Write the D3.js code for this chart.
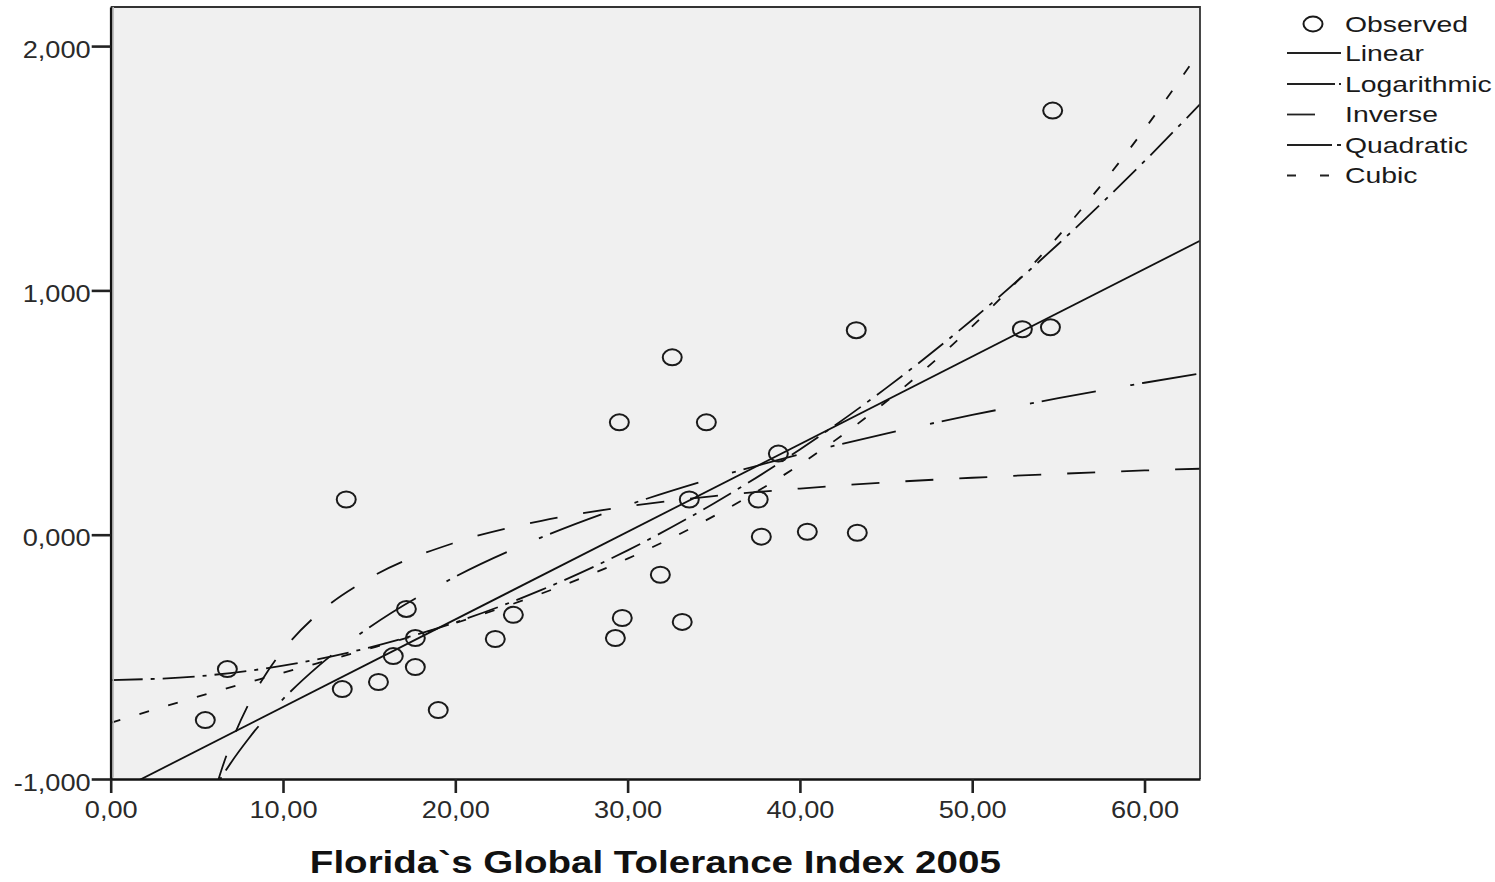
<!DOCTYPE html>
<html>
<head>
<meta charset="utf-8">
<script src="https://cdn.jsdelivr.net/npm/d3@7"></script>
<style>
  html, body { margin: 0; padding: 0; background: #ffffff; }
  svg { display: block; }
  text { font-family: "Liberation Sans", Arial, sans-serif; }
</style>
</head>
<body>
<svg id="chart" width="1495" height="882"></svg>
<script>
// ---------- data ----------
const obsX = [5.49, 6.77, 13.67, 13.44, 15.54, 16.40, 17.16, 17.68, 17.68, 19.01, 22.32, 23.37, 29.29, 29.52, 29.69,
              31.90, 32.59, 33.17, 33.58, 34.57, 37.58, 37.76, 38.75, 40.43, 43.27, 43.33, 52.91, 54.54, 54.67];
const obsY = [-0.759, -0.550, 0.144, -0.632, -0.603, -0.497, -0.304, -0.423, -0.542, -0.718, -0.427, -0.328, -0.423, 0.460, -0.341,
              -0.164, 0.726, -0.357, 0.144, 0.460, 0.144, -0.008, 0.332, 0.012, 0.837, 0.008, 0.841, 0.849, 1.736];

const linearX = [0, 63.22];
const linearY = [-1.064, 1.203];

const logX = [6.3, 6.6, 7, 8, 9, 10, 12, 15, 20, 25, 30, 35, 40, 45, 50, 55, 60, 63.22];
const logY = [-1.007, -0.974, -0.931, -0.835, -0.749, -0.673, -0.541, -0.380, -0.172, -0.011, 0.121, 0.232, 0.329, 0.414, 0.490, 0.559, 0.622, 0.660];

const inverseX = [6.2, 6.5, 7, 8, 9, 10, 12, 15, 20, 25, 30, 35, 40, 45, 50, 55, 60, 63.22];
const inverseY = [-1.014, -0.948, -0.851, -0.694, -0.571, -0.473, -0.326, -0.179, -0.032, 0.057, 0.116, 0.158, 0.189, 0.214, 0.233, 0.249, 0.263, 0.270];

const quadX = [0, 5, 10, 15, 20, 25, 30, 35, 40, 45, 50, 55, 60, 63.22];
const quadY = [-0.595, -0.580, -0.536, -0.462, -0.359, -0.226, -0.064, 0.128, 0.349, 0.600, 0.880, 1.190, 1.529, 1.762];

const cubicX = [0, 5, 10, 15, 20, 25, 30, 35, 40, 45, 50, 55, 60, 63.22];
const cubicY = [-0.770, -0.664, -0.565, -0.467, -0.362, -0.241, -0.098, 0.076, 0.287, 0.544, 0.853, 1.222, 1.660, 1.980];

const seriesNames = ["Observed", "Linear", "Logarithmic", "Inverse", "Quadratic", "Cubic"];

const xTickValues = [0, 10, 20, 30, 40, 50, 60];
const xTickLabels = ["0,00", "10,00", "20,00", "30,00", "40,00", "50,00", "60,00"];
const yTickValues = [-1, 0, 1, 2];
const yTickLabels = ["-1,000", "0,000", "1,000", "2,000"];

const xDomain = [0, 63.22];
const yDomain = [-1, 2.16];
const xTitle = "Florida`s Global Tolerance Index 2005";

// ---------- styles / layout ----------
const plot = { left: 110.7, right: 1200, top: 7, bottom: 779 };
const lineStyles = {
  Linear:      { dash: null,           legendDash: null },
  Logarithmic: { dash: "4,8,55,35",    legendDash: "48,4,3,20" },
  Inverse:     { dash: "28,26",        legendDash: "28,40" },
  Quadratic:   { dash: "32,8,4,8",     legendDash: "45,5,5,20" },
  Cubic:       { dash: "10,20",        legendDash: "9,24,9,20" }
};

const svg = d3.select("#chart");
const x = d3.scaleLinear().domain(xDomain).range([plot.left, plot.right]);
const y = d3.scaleLinear().domain(yDomain).range([plot.bottom, plot.top]);

// background
svg.append("rect")
  .attr("x", plot.left).attr("y", plot.top)
  .attr("width", plot.right - plot.left).attr("height", plot.bottom - plot.top)
  .attr("fill", "#f0f0f0");

svg.append("clipPath").attr("id", "clip")
  .append("rect")
  .attr("x", plot.left).attr("y", plot.top)
  .attr("width", plot.right - plot.left).attr("height", plot.bottom - plot.top);

const curves = [
  { name: "Linear", xs: linearX, ys: linearY },
  { name: "Logarithmic", xs: logX, ys: logY },
  { name: "Inverse", xs: inverseX, ys: inverseY },
  { name: "Quadratic", xs: quadX, ys: quadY },
  { name: "Cubic", xs: cubicX, ys: cubicY }
];

const lineGen = d3.line().x(d => x(d[0])).y(d => y(d[1])).curve(d3.curveMonotoneX);
const gCurves = svg.append("g").attr("clip-path", "url(#clip)");
curves.forEach(c => {
  const pts = c.xs.map((v, i) => [v, c.ys[i]]);
  gCurves.append("path")
    .attr("d", lineGen(pts))
    .attr("fill", "none")
    .attr("stroke", "#111")
    .attr("stroke-width", 1.8)
    .attr("stroke-dasharray", lineStyles[c.name].dash);
});

// observed points
svg.append("g").selectAll("ellipse")
  .data(obsX.map((v, i) => [v, obsY[i]]))
  .join("ellipse")
  .attr("cx", d => x(d[0])).attr("cy", d => y(d[1]))
  .attr("rx", 9.5).attr("ry", 8)
  .attr("fill", "none").attr("stroke", "#1a1a1a").attr("stroke-width", 2);

// frame: top & right thin
svg.append("path")
  .attr("d", `M${plot.left},${plot.top}H${plot.right}V${plot.bottom}`)
  .attr("fill", "none").attr("stroke", "#333").attr("stroke-width", 1.8);

// helper to stretch text horizontally
function stretch(sel, factor) {
  sel.each(function () {
    const w = this.getComputedTextLength();
    d3.select(this).attr("textLength", w * factor).attr("lengthAdjust", "spacingAndGlyphs");
  });
}

// axes
const xAxis = d3.axisBottom(x).tickValues(xTickValues)
  .tickFormat((d, i) => xTickLabels[i]).tickSize(14).tickSizeOuter(0);
const gx = svg.append("g").attr("transform", `translate(0,${plot.bottom})`).call(xAxis);
gx.select(".domain").attr("stroke", "#111").attr("stroke-width", 2.6);
gx.selectAll(".tick line").attr("stroke", "#222").attr("stroke-width", 2.6);
gx.selectAll(".tick text")
  .attr("y", 39).attr("dy", null)
  .attr("font-size", 23.5).attr("fill", "#2a2a2a")
  .attr("font-family", "Liberation Sans, Arial, sans-serif");

const yAxis = d3.axisLeft(y).tickValues(yTickValues)
  .tickFormat((d, i) => yTickLabels[i]).tickSize(19).tickSizeOuter(0);
const gy = svg.append("g").attr("transform", `translate(${plot.left},0)`).call(yAxis);
gy.select(".domain").attr("stroke", "#111").attr("stroke-width", 2.6);
gy.selectAll(".tick line").attr("stroke", "#222").attr("stroke-width", 2.6);
gy.selectAll(".tick text")
  .attr("x", -20).attr("dy", null).attr("y", 11)
  .attr("font-size", 23.5).attr("fill", "#2a2a2a")
  .attr("font-family", "Liberation Sans, Arial, sans-serif");

// shadow line right of y axis
svg.append("line")
  .attr("x1", plot.left + 2.5).attr("x2", plot.left + 2.5)
  .attr("y1", plot.top).attr("y2", plot.bottom - 1.5)
  .attr("stroke", "#bdbdbd").attr("stroke-width", 1.5);

// stretch tick labels (the reference font is wider)
const refTick = gy.selectAll(".tick text").filter((d, i) => i === 3).node();
const tickFactor = 68 / refTick.getComputedTextLength();
stretch(gx.selectAll(".tick text"), tickFactor);
stretch(gy.selectAll(".tick text"), tickFactor);

// x title
const title = svg.append("text")
  .attr("x", (plot.left + plot.right) / 2).attr("y", 873)
  .attr("text-anchor", "middle")
  .attr("font-size", 31).attr("font-weight", "bold").attr("fill", "#111")
  .text(xTitle);
stretch(title, 691 / title.node().getComputedTextLength());

// legend
const legendRows = [24, 53, 84, 114.5, 145, 175.5];
const gl = svg.append("g");
let legendFactor = 1;
seriesNames.forEach((name, i) => {
  const cy = legendRows[i];
  if (name === "Observed") {
    gl.append("ellipse").attr("cx", 1313).attr("cy", cy).attr("rx", 9.5).attr("ry", 7.5)
      .attr("fill", "none").attr("stroke", "#1a1a1a").attr("stroke-width", 2);
  } else {
    gl.append("line").attr("x1", 1287).attr("x2", 1341).attr("y1", cy).attr("y2", cy)
      .attr("stroke", "#222").attr("stroke-width", 1.8)
      .attr("stroke-dasharray", lineStyles[name].legendDash);
  }
  const t = gl.append("text").attr("x", 1345).attr("y", cy + 7.5)
    .attr("font-size", 21.5).attr("fill", "#1a1a1a").text(name);
  if (i === 0) legendFactor = 123 / t.node().getComputedTextLength();
  stretch(t, legendFactor);
});
</script>
</body>
</html>
